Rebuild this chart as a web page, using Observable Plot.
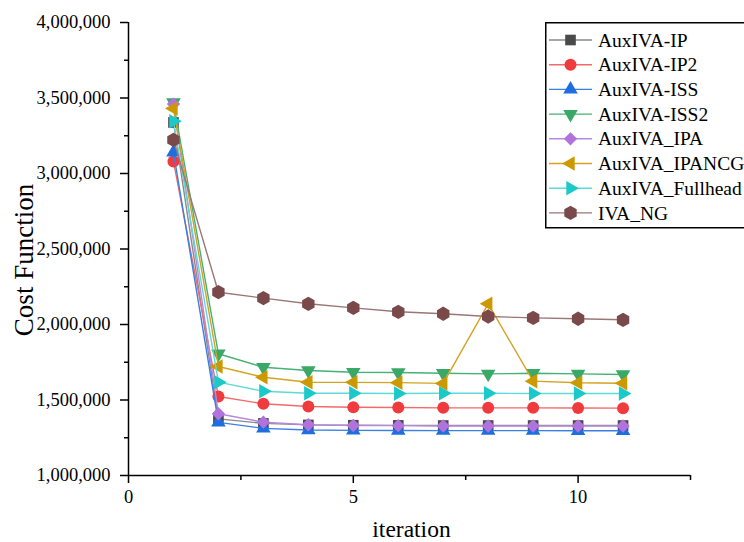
<!DOCTYPE html>
<html>
<head>
<meta charset="utf-8">
<script src="https://cdn.jsdelivr.net/npm/d3@7"></script>
<script src="https://cdn.jsdelivr.net/npm/@observablehq/plot@0.6"></script>
<style>
  html, body { margin: 0; padding: 0; background: #fff; overflow: hidden; }
  #wrap { position: relative; width: 744px; height: 542px; overflow: hidden; }
  #legend { position: absolute; left: 545px; top: 22px; }
</style>
</head>
<body>
<div id="wrap"><div id="chart"></div><div id="legend"></div></div>
<script>
const iterations = [1, 2, 3, 4, 5, 6, 7, 8, 9, 10, 11];
const seriesNames = ["AuxIVA-IP", "AuxIVA-IP2", "AuxIVA-ISS", "AuxIVA-ISS2", "AuxIVA_IPA", "AuxIVA_IPANCG", "AuxIVA_Fullhead", "IVA_NG"];
const auxIP       = [3338000, 1375000, 1345000, 1335000, 1333000, 1332000, 1331000, 1331000, 1331000, 1331000, 1331000];
const auxIP2      = [3080000, 1523000, 1475000, 1457000, 1452000, 1450000, 1448000, 1448000, 1448000, 1447000, 1446000];
const auxISS      = [3140000, 1352000, 1312000, 1301000, 1299000, 1298000, 1297000, 1297000, 1297000, 1296000, 1296000];
const auxISS2     = [3470000, 1806000, 1717000, 1695000, 1684000, 1682000, 1677000, 1673000, 1677000, 1673000, 1669000];
const auxIPA      = [3460000, 1409000, 1353000, 1336000, 1331000, 1330000, 1328000, 1328000, 1328000, 1328000, 1328000];
const auxIPANCG   = [3430000, 1722000, 1651000, 1618000, 1617000, 1615000, 1610000, 2137000, 1625000, 1614000, 1611000];
const auxFullhead = [3346000, 1618000, 1558000, 1545000, 1545000, 1543000, 1545000, 1545000, 1543000, 1543000, 1543000];
const ivaNG       = [3223000, 2214000, 2175000, 2137000, 2110000, 2084000, 2071000, 2053000, 2044000, 2038000, 2031000];
const seriesValues = [auxIP, auxIP2, auxISS, auxISS2, auxIPA, auxIPANCG, auxFullhead, ivaNG];

const yMajorTicks = [1000000, 1500000, 2000000, 2500000, 3000000, 3500000, 4000000];
const yMinorTicks = [1250000, 1750000, 2250000, 2750000, 3250000, 3750000];
const xMajorTicks = [0, 5, 10];
const xMinorTicks = [2.5, 7.5, 12.5];

// styles
const markerColors = ["#4a4a4a", "#ef3b3e", "#1f6ee0", "#3aa866", "#b072dc", "#cc9900", "#1cc9c9", "#7a4a4a"];
const lineColors   = ["#8a8a8a", "#f26a6c", "#3a7fe3", "#45b174", "#b589dd", "#d3a322", "#5fd9d9", "#9b7676"];
const symbols   = ["square", "circle", "triangle", "triangle", "diamond2", "triangle", "triangle", "hexagon"];
const rotations = [0, 0, 0, 180, 0, -90, 90, 0];
const radii     = [6, 6, 5.4, 5.4, 6, 5.4, 5.4, 6.2];

const marks = [];
seriesNames.forEach((name, i) => {
  const rows = iterations.map((it, j) => ({iteration: it, value: seriesValues[i][j], series: name}));
  marks.push(Plot.line(rows, {x: "iteration", y: "value", stroke: lineColors[i], strokeWidth: 1.4}));
  marks.push(Plot.dot(rows, {x: "iteration", y: "value", symbol: () => symbols[i], rotate: rotations[i], r: radii[i], fill: markerColors[i], stroke: "none"}));
});

const chart = Plot.plot({
  width: 744,
  height: 542,
  marginLeft: 128,
  marginRight: 54,
  marginTop: 22,
  marginBottom: 67,
  style: {fontFamily: "'Liberation Serif', 'Times New Roman', serif", fontSize: "18px", color: "#000", background: "#fff"},
  x: {domain: [0, 12.5]},
  y: {domain: [1000000, 4000000]},
  symbol: {type: "identity"},
  marks: [
    ...marks,
    Plot.ruleX([0], {stroke: "#000", strokeWidth: 1.5}),
    Plot.ruleY([1000000], {stroke: "#000", strokeWidth: 1.5}),
    Plot.axisY({ticks: yMajorTicks, tickSize: 8, tickPadding: 10, tickFormat: d3.format(","), label: null, strokeWidth: 1.5, fontSize: 18.5}),
    Plot.axisY({ticks: yMinorTicks, tickSize: 4, text: null, label: null, strokeWidth: 1.5}),
    Plot.axisX({ticks: xMajorTicks, tickSize: 8, tickPadding: 6, tickFormat: d3.format("d"), label: null, strokeWidth: 1.5, fontSize: 18.5}),
    Plot.axisX({ticks: xMinorTicks, tickSize: 5, text: null, label: null, strokeWidth: 1.5}),
    Plot.text(["Cost Function"], {text: d => d, frameAnchor: "left", textAnchor: "middle", lineAnchor: "middle", rotate: -90, dx: -104, dy: 11, fontSize: 27}),
    Plot.text(["iteration"], {text: d => d, frameAnchor: "bottom", dx: 2, dy: 61, fontSize: 23.5})
  ]
});
document.getElementById("chart").appendChild(chart);

// legend
const sqrt3 = Math.sqrt(3);
const hexSymbol = {
  draw(context, size) {
    const rx = Math.sqrt(size / Math.PI), ry = rx * 2 / sqrt3, hy = ry / 2;
    context.moveTo(0, ry); context.lineTo(rx, hy); context.lineTo(rx, -hy);
    context.lineTo(0, -ry); context.lineTo(-rx, -hy); context.lineTo(-rx, hy);
    context.closePath();
  }
};
const d3Symbols = {square: d3.symbolSquare, circle: d3.symbolCircle, triangle: d3.symbolTriangle, diamond2: d3.symbolDiamond2, hexagon: hexSymbol};
const lg = d3.select("#legend").append("svg").attr("width", 220).attr("height", 210)
  .style("font-family", "'Liberation Serif', 'Times New Roman', serif");
lg.append("rect").attr("x", 0.75).attr("y", 0.75).attr("width", 216).attr("height", 205)
  .attr("fill", "#fff").attr("stroke", "#000").attr("stroke-width", 1.5);
seriesNames.forEach((name, i) => {
  const cy = 18 + i * 24.7;
  lg.append("line").attr("x1", 4).attr("x2", 47).attr("y1", cy).attr("y2", cy)
    .attr("stroke", lineColors[i]).attr("stroke-width", 1.4);
  lg.append("path").attr("d", d3.symbol(d3Symbols[symbols[i]], Math.PI * radii[i] * radii[i])())
    .attr("transform", `translate(25.5,${cy}) rotate(${rotations[i]})`).attr("fill", markerColors[i]);
  lg.append("text").attr("x", 53).attr("y", cy).attr("dy", "0.34em").attr("font-size", 19.5).text(name);
});
</script>
</body>
</html>
